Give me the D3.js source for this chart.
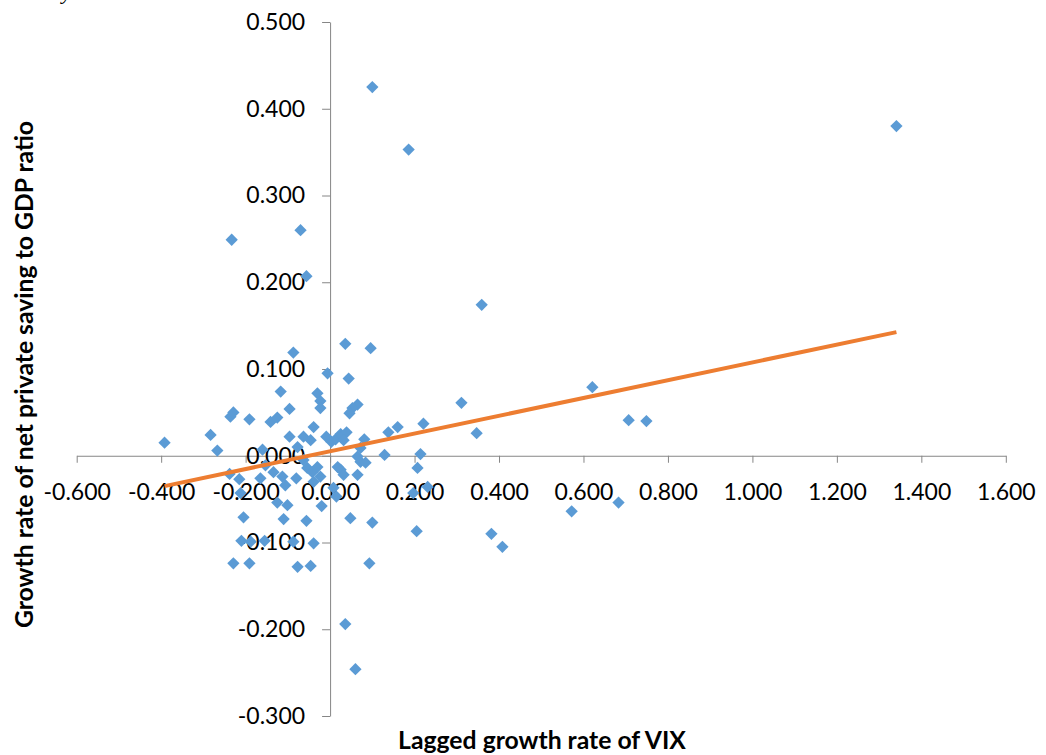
<!DOCTYPE html>
<html>
<head>
<meta charset="utf-8">
<script src="https://cdn.jsdelivr.net/npm/d3@7"></script>
<style>
  html, body { margin: 0; padding: 0; background: #fff; }
  svg { display: block; }
</style>
</head>
<body>
<svg id="chart" width="1046" height="755"></svg>
<script>
// Lagged growth rate of VIX (x) vs growth rate of net private saving to GDP ratio (y)
const vixGrowth = [
  1.341, 0.100, 0.186, -0.233, -0.070, -0.056, 0.359, 0.621, 0.707, 0.749,
  0.572, 0.683, 0.311, 0.347, 0.382, 0.408, -0.392, 0.036, 0.060, -0.087,
  -0.117, -0.236, -0.229, -0.191, -0.283, -0.267, -0.006, 0.036, 0.096, 0.044,
  -0.030, -0.023, -0.023, 0.065, 0.053, 0.046, -0.096, -0.141, -0.125, -0.096,
  -0.063, -0.039, -0.046, -0.009, 0.003, 0.013, 0.025, 0.039, 0.032, 0.081,
  0.129, 0.138, 0.160, 0.221, 0.214, -0.160, -0.077, -0.063, 0.065, 0.072,
  0.084, 0.065, 0.207, 0.231, 0.197, 0.205, -0.238, -0.215, -0.212, -0.205,
  -0.165, -0.153, -0.210, -0.188, -0.155, -0.229, -0.191, -0.134, -0.113, -0.106,
  -0.125, -0.101, -0.110, -0.087, -0.077, -0.046, -0.039, -0.056, -0.020, -0.080,
  -0.054, -0.042, -0.030, -0.023, -0.039, 0.018, 0.025, 0.032, 0.008, 0.015,
  0.048, 0.100, 0.093, 0.072
];
const savingGrowth = [
  0.380, 0.425, 0.353, 0.249, 0.260, 0.207, 0.174, 0.079, 0.041, 0.040,
  -0.064, -0.054, 0.061, 0.026, -0.090, -0.105, 0.015, -0.194, -0.246, 0.119,
  0.074, 0.045, 0.050, 0.042, 0.024, 0.006, 0.095, 0.129, 0.124, 0.089,
  0.072, 0.063, 0.055, 0.059, 0.055, 0.049, 0.054, 0.039, 0.044, 0.022,
  0.022, 0.033, 0.018, 0.022, 0.016, 0.019, 0.025, 0.027, 0.018, 0.019,
  0.001, 0.027, 0.033, 0.037, 0.002, 0.007, 0.010, -0.005, -0.001, -0.007,
  -0.008, -0.022, -0.014, -0.036, -0.043, -0.087, -0.021, -0.027, -0.043, -0.071,
  -0.026, -0.011, -0.098, -0.099, -0.098, -0.124, -0.124, -0.019, -0.024, -0.034,
  -0.054, -0.057, -0.073, -0.099, -0.128, -0.127, -0.101, -0.075, -0.058, -0.026,
  -0.014, -0.019, -0.013, -0.024, -0.030, -0.013, -0.016, -0.022, -0.037, -0.047,
  -0.072, -0.077, -0.124, 0.009
];
const xTicks = [-0.6, -0.4, -0.2, 0.0, 0.2, 0.4, 0.6, 0.8, 1.0, 1.2, 1.4, 1.6];
const yTicks = [-0.3, -0.2, -0.1, 0.0, 0.1, 0.2, 0.3, 0.4, 0.5];
const xTitle = "Lagged growth rate of VIX";
const yTitle = "Growth rate of net private saving to GDP ratio";

const points = vixGrowth.map((v, i) => ({ x: v, y: savingGrowth[i] }));

const svg = d3.select("#chart");
const FONT = "Lato, 'Open Sans', 'Liberation Sans', sans-serif";
const AXIS_COLOR = "#868686";
const MARKER_COLOR = "#5B9BD5";
const TREND_COLOR = "#ED7D31";

const x = d3.scaleLinear().domain([-0.6, 1.6]).range([76.7, 1005.8]);
const y = d3.scaleLinear().domain([-0.3, 0.5]).range([716, 22]);
// three decimals, plain hyphen for negatives
const fmt3 = d3.format(".3f");
const fmt = v => fmt3(v).replace("\u2212", "-");

// fragment of a caption line sitting above the chart
svg.append("text")
  .attr("x", 62).attr("y", -1)
  .attr("font-family", "'Liberation Serif', 'DejaVu Serif', serif")
  .attr("font-style", "italic")
  .attr("font-size", 22)
  .attr("fill", "#000")
  .text("y");

// x axis crosses at y = 0
const gx = svg.append("g")
  .attr("transform", `translate(0,${y(0)})`)
  .call(d3.axisBottom(x).tickValues(xTicks).tickFormat(fmt).tickSize(7).tickSizeOuter(0).tickPadding(21));

// y axis crosses at x = 0
const gy = svg.append("g")
  .attr("transform", `translate(${x(0)},0)`)
  .call(d3.axisLeft(y).tickValues(yTicks).tickFormat(fmt).tickSize(8).tickSizeOuter(0).tickPadding(17));

[gx, gy].forEach(g => {
  g.select(".domain").attr("stroke", AXIS_COLOR).attr("stroke-width", 1);
  g.selectAll(".tick line").attr("stroke", AXIS_COLOR).attr("stroke-width", 1);
  g.selectAll(".tick text")
    .attr("font-family", FONT)
    .attr("font-size", 23)
    .attr("fill", "#000");
});

// diamond markers
const diamond = d3.symbol().type(d3.symbolDiamond2).size(96);
svg.append("g")
  .selectAll("path")
  .data(points)
  .join("path")
  .attr("d", diamond)
  .attr("transform", d => `translate(${x(d.x)},${y(d.y)})`)
  .attr("fill", MARKER_COLOR);

// least-squares trend line over the data range
const mx = d3.mean(points, d => d.x);
const my = d3.mean(points, d => d.y);
const slope = d3.sum(points, d => (d.x - mx) * (d.y - my)) / d3.sum(points, d => (d.x - mx) ** 2);
const intercept = my - slope * mx;
const [x0, x1] = d3.extent(points, d => d.x);
svg.append("line")
  .attr("x1", x(x0)).attr("y1", y(intercept + slope * x0))
  .attr("x2", x(x1)).attr("y2", y(intercept + slope * x1))
  .attr("stroke", TREND_COLOR)
  .attr("stroke-width", 4)
  .attr("stroke-linecap", "butt");

// axis titles, sized to their available span
function fitText(sel, target) {
  const w = sel.node().getComputedTextLength();
  const fs = parseFloat(sel.attr("font-size"));
  sel.attr("font-size", (fs * target / w).toFixed(2));
}

const xt = svg.append("text")
  .attr("x", 542).attr("y", 749)
  .attr("text-anchor", "middle")
  .attr("font-family", FONT)
  .attr("font-weight", "bold")
  .attr("font-size", 20)
  .attr("fill", "#000")
  .text(xTitle);
fitText(xt, 288);

const yt = svg.append("text")
  .attr("transform", "translate(33,374.5) rotate(-90)")
  .attr("text-anchor", "middle")
  .attr("font-family", FONT)
  .attr("font-weight", "bold")
  .attr("font-size", 20)
  .attr("fill", "#000")
  .text(yTitle);
fitText(yt, 507);
</script>
</body>
</html>
